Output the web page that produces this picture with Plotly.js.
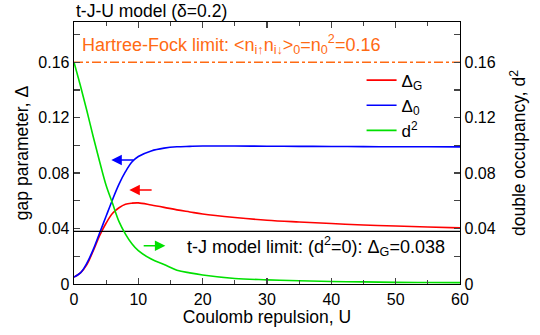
<!DOCTYPE html>
<html><head><meta charset="utf-8">
<script src="https://cdn.plot.ly/plotly-3.0.1.min.js"></script>
<style>body{margin:0;background:#fff}#c{width:540px;height:335px}</style>
</head><body><div id="c"></div>
<script>
const U = [0,1,2,3,4,5,6,7,8,9,10,12,14,16,18,20,25,30,35,40,45,50,55,60];
const deltaG = [0.005,0.008,0.014,0.024,0.035,0.044,0.051,0.055,0.0575,0.0583,0.0585,0.057,0.0553,0.0535,0.052,0.0505,0.048,0.046,0.0447,0.0436,0.0426,0.0418,0.0411,0.0405];
const delta0 = [0.005,0.008,0.015,0.025,0.037,0.049,0.061,0.072,0.081,0.088,0.092,0.096,0.098,0.099,0.0993,0.0995,0.0995,0.0994,0.0993,0.0992,0.0991,0.099,0.099,0.0989];
const d2 = [0.16,0.143,0.125,0.106,0.088,0.071,0.058,0.045,0.036,0.029,0.024,0.018,0.014,0.010,0.008,0.0065,0.004,0.003,0.0023,0.0018,0.0015,0.0012,0.0011,0.001];
const hfLimit = 0.16;
const tjLimit = 0.038;
const yTicks = [0,0.04,0.08,0.12,0.16];
const yTickText = ['0','0.04','0.08','0.12','0.16'];

const font = {family:'Liberation Sans, Arial, sans-serif', size:17, color:'#000'};
const traces = [
  {x:U, y:deltaG, mode:'lines', line:{color:'#ff0000', width:1.6, shape:'spline'}, name:'Δ<sub>G</sub>'},
  {x:U, y:delta0, mode:'lines', line:{color:'#0000ff', width:1.6, shape:'spline'}, name:'Δ<sub>0</sub>'},
  {x:U, y:d2, mode:'lines', line:{color:'#00e000', width:1.6, shape:'spline'}, name:'d<sup>2</sup>', yaxis:'y2'},
  {x:[0,60], y:[hfLimit,hfLimit], mode:'lines', line:{color:'#ff6a13', width:1.6, dash:'dashdot'}, showlegend:false},
  {x:[0,60], y:[tjLimit,tjLimit], mode:'lines', line:{color:'#000', width:1.3}, showlegend:false}
];
const yr = [0,0.189];
const layout = {
  width:540, height:335,
  margin:{l:74, r:80, t:22, b:51},
  paper_bgcolor:'#fff', plot_bgcolor:'#fff',
  font:font,
  showlegend:true,
  legend:{x:0.745, y:0.845, xanchor:'left', yanchor:'top', bgcolor:'rgba(0,0,0,0)', font:{size:17}, tracegroupgap:0},
  xaxis:{range:[0,60], tickvals:[0,10,20,30,40,50,60], ticks:'inside', ticklen:6, tickwidth:1.3, showline:true, linewidth:1.3, linecolor:'#000', mirror:'ticks', showgrid:false, zeroline:false,
    minor:{dtick:5, ticks:'inside', ticklen:4, tickwidth:1.3, showgrid:false},
    title:{text:'Coulomb repulsion, U', font:{size:17.5}, standoff:2}, tickfont:{size:16}},
  yaxis:{range:yr, tickvals:yTicks, ticktext:yTickText, ticks:'inside', ticklen:6, tickwidth:1.3, showline:true, linewidth:1.3, linecolor:'#000', showgrid:false, zeroline:false,
    minor:{dtick:0.02, ticks:'inside', ticklen:6, tickwidth:1.3, showgrid:false},
    title:{text:'gap parameter, Δ', font:{size:17.5}, standoff:5}, tickfont:{size:16}},
  yaxis2:{range:yr, overlaying:'y', side:'right', tickvals:yTicks, ticktext:yTickText, ticks:'inside', ticklen:6, tickwidth:1.3, showline:true, linewidth:1.3, linecolor:'#000', showgrid:false, zeroline:false,
    minor:{dtick:0.02, ticks:'inside', ticklen:6, tickwidth:1.3, showgrid:false},
    title:{text:'double occupancy, d<sup>2</sup>', font:{size:17.5}, standoff:18}, tickfont:{size:16}},
  annotations:[
    {xref:'paper', yref:'paper', x:0, y:1, xanchor:'left', yanchor:'bottom', yshift:-1, text:'t-J-U model (δ=0.2)', showarrow:false, font:{size:17.5}},
    {xref:'x', yref:'y', x:1.0, y:0.1725, xanchor:'left', yanchor:'middle', text:'Hartree-Fock limit: <n<sub>i↑</sub>n<sub>i↓</sub>><sub>0</sub>=n<sub>0</sub><sup>2</sup>=0.16', showarrow:false, font:{size:18, color:'#ff6a13'}},
    {xref:'x', yref:'y', x:17.2, y:0.0272, xanchor:'left', yanchor:'middle', text:'t-J model limit: (d<sup>2</sup>=0): Δ<sub>G</sub>=0.038', showarrow:false, font:{size:18}},
    {xref:'x', yref:'y', axref:'x', ayref:'y', x:5.8, y:0.0894, ax:9.5, ay:0.0894, text:'', showarrow:true, arrowhead:2, arrowsize:1.4, arrowwidth:1.5, arrowcolor:'#0000ff'},
    {xref:'x', yref:'y', axref:'x', ayref:'y', x:8.6, y:0.0678, ax:12.3, ay:0.0678, text:'', showarrow:true, arrowhead:2, arrowsize:1.4, arrowwidth:1.5, arrowcolor:'#ff0000'},
    {xref:'x', yref:'y', axref:'x', ayref:'y', x:14.2, y:0.0276, ax:10.6, ay:0.0276, text:'', showarrow:true, arrowhead:2, arrowsize:1.4, arrowwidth:1.5, arrowcolor:'#00e000'}
  ]
};
Plotly.newPlot('c', traces, layout, {staticPlot:true, displayModeBar:false});
</script></body></html>
